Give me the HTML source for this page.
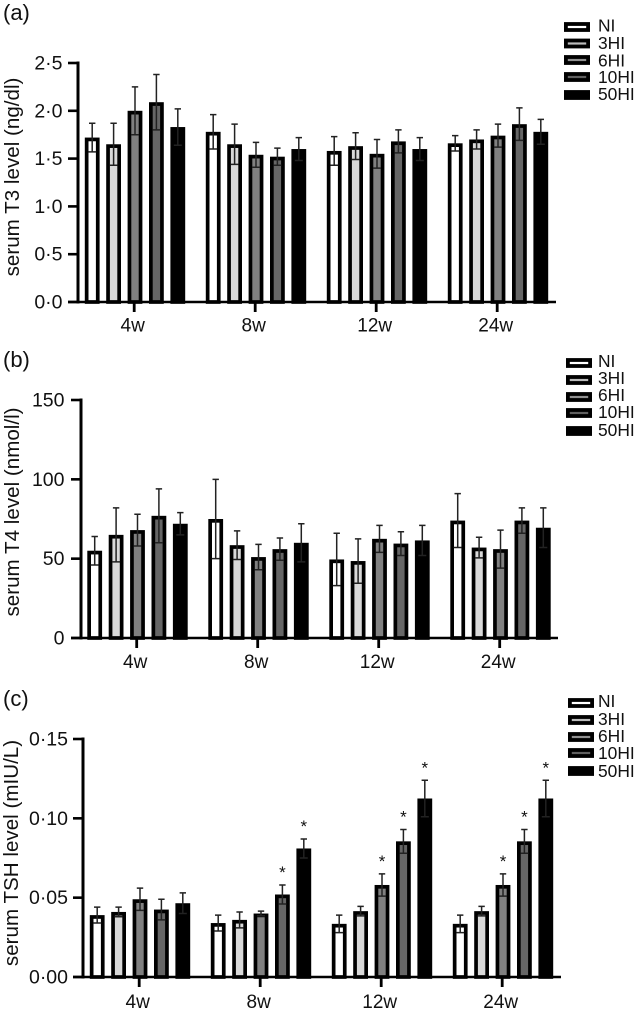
<!DOCTYPE html>
<html lang="en">
<head>
<meta charset="utf-8">
<title>Serum thyroid hormone levels</title>
<style>
html,body{margin:0;padding:0;background:#fff;}
body{width:636px;height:1014px;overflow:hidden;}
svg{display:block;font-family:"Liberation Sans",Arial,sans-serif;fill:#111;}
</style>
</head>
<body>
<svg id="figure" xmlns="http://www.w3.org/2000/svg" width="636" height="1014" viewBox="0 0 636 1014"></svg>
<script>
const weeks = ['4w', '8w', '12w', '24w'];
const groups = ['NI', '3HI', '6HI', '10HI', '50HI'];
const groupFills = ['#ffffff', '#d9d9d9', '#808080', '#666666', '#000000'];
const legendInnerFills = ['#ffffff', '#bbbbbb', '#909090', '#606060', '#000000'];

const t3Ticks = ['0·0', '0·5', '1·0', '1·5', '2·0', '2·5'];
const t3TickValues = [0, 0.5, 1, 1.5, 2, 2.5];
const t3Means = [
  [1.72, 1.65, 2.00, 2.09, 1.83],
  [1.78, 1.65, 1.54, 1.52, 1.60],
  [1.58, 1.63, 1.55, 1.68, 1.60],
  [1.66, 1.70, 1.74, 1.86, 1.78]
];
const t3Errors = [
  [0.15, 0.22, 0.25, 0.29, 0.19],
  [0.18, 0.21, 0.13, 0.09, 0.12],
  [0.15, 0.14, 0.15, 0.12, 0.12],
  [0.08, 0.10, 0.12, 0.17, 0.13]
];

const t4Ticks = ['0', '50', '100', '150'];
const t4TickValues = [0, 50, 100, 150];
const t4Means = [
  [55, 65, 68, 77, 72],
  [75, 58.5, 51, 56, 60],
  [49.5, 48.5, 62.5, 59.5, 61.5],
  [74, 57, 56, 74, 69.5]
];
const t4Errors = [
  [9, 17, 10, 17, 7],
  [25, 9, 8, 7, 12],
  [16.5, 14, 8.5, 7.5, 9.5],
  [17, 6.5, 12, 8, 12.5]
];

const tshTicks = ['0·00', '0·05', '0·10', '0·15'];
const tshTickValues = [0, 0.05, 0.10, 0.15];
const tshMeans = [
  [0.039, 0.041, 0.049, 0.0425, 0.0465],
  [0.034, 0.036, 0.040, 0.052, 0.081],
  [0.0335, 0.0415, 0.058, 0.0855, 0.1125],
  [0.0335, 0.0415, 0.058, 0.0855, 0.1125]
];
const tshErrors = [
  [0.005, 0.003, 0.007, 0.0065, 0.0065],
  [0.005, 0.005, 0.0015, 0.006, 0.006],
  [0.0055, 0.003, 0.007, 0.0075, 0.0115],
  [0.0055, 0.003, 0.007, 0.0075, 0.0115]
];
const tshStars = [
  [0, 0, 0, 0, 0],
  [0, 0, 0, 1, 1],
  [0, 0, 1, 1, 1],
  [0, 0, 1, 1, 1]
];

const NS = 'http://www.w3.org/2000/svg';
const figure = document.getElementById('figure');

function make(tag, parent, attrs) {
  const el = document.createElementNS(NS, tag);
  for (const k in attrs) el.setAttribute(k, attrs[k]);
  parent.appendChild(el);
  return el;
}

function drawPanel(cfg) {
  const panel = make('g', figure, {});
  
  

  const yScale = v => cfg.y0 - (v / cfg.yMax) * (cfg.y0 - cfg.yTop);
  const xScale = (g, s) => cfg.xFirst + g * cfg.groupStep + (s - 2) * cfg.barStep;

  const letter = make('text', panel, {x: 3, y: cfg.letterY, 'font-size': 22});
  
  
  letter.textContent = '(' + cfg.id + ')';

  const title = make('text', panel, {
    transform: 'translate(' + cfg.titleX + ' ' + cfg.titleY + ') rotate(-90)',
    'text-anchor': 'middle', 'font-size': cfg.titleSize
  });
  
  
  title.textContent = cfg.title;

  // bars and error bars
  cfg.means.forEach((row, g) => {
    row.forEach((m, s) => {
      const cx = xScale(g, s);
      const sw = 3.7;
      const w = 14.8;
      const top = yScale(m);
      const bar = make('rect', panel, {
        x: cx - w / 2 + sw / 2,
        y: top + sw / 2,
        width: w - sw,
        height: cfg.y0 - top - sw / 2,
        fill: groupFills[s],
        stroke: '#000',
        'stroke-width': sw
      });
      
      

      const e = cfg.errors[g][s];
      const hi = yScale(m + e);
      const lo = yScale(m - e);
      const err = make('path', panel, {
        d: 'M' + (cx - 3.2) + ' ' + hi + 'H' + (cx + 3.2) + 'M' + cx + ' ' + hi + 'V' + lo +
           'M' + (cx - 4) + ' ' + lo + 'H' + (cx + 4),
        fill: 'none',
        stroke: '#222',
        'stroke-width': 1.5
      });
      
      

      if (cfg.stars && cfg.stars[g][s]) {
        const star = make('text', panel, {
          x: cx, y: hi - 7, 'text-anchor': 'middle', 'font-size': 17
        });
        
        
        star.textContent = '*';
      }
    });
  });

  // axes
  const yAxis = make('line', panel, {
    x1: cfg.axisX, x2: cfg.axisX, y1: cfg.yTop - 1.5, y2: cfg.y0 + 1.5, stroke: '#000', 'stroke-width': 3
  });
  
  

  const xAxis = make('line', panel, {
    x1: cfg.axisX - 10, x2: cfg.xEnd, y1: cfg.y0, y2: cfg.y0, stroke: '#000', 'stroke-width': 2.6
  });
  
  

  cfg.tickValues.forEach((v, i) => {
    const y = yScale(v);
    const tick = make('line', panel, {
      x1: cfg.axisX - 10, x2: cfg.axisX, y1: y, y2: y, stroke: '#000', 'stroke-width': 2.6
    });
    
    

    const label = make('text', panel, {
      x: cfg.tickLabelX, y: y + 6.5, 'text-anchor': 'end', 'font-size': 19.5
    });
    
    
    label.textContent = cfg.ticks[i];
  });

  weeks.forEach((wk, g) => {
    const x = xScale(g, 2) - 0.8;
    const tick = make('line', panel, {
      x1: x, x2: x, y1: cfg.y0, y2: cfg.y0 + 10, stroke: '#000', 'stroke-width': 2.8
    });
    
    

    const label = make('text', panel, {
      x: x + cfg.xLabelShift, y: cfg.y0 + cfg.xLabelGap, 'text-anchor': 'middle', 'font-size': 19
    });
    
    
    label.textContent = wk;
  });

  // legend
  const legend = make('g', panel, {});
  
  
  groups.forEach((name, i) => {
    const cy = cfg.legendY[i];
    const entry = make('g', legend, {});
    
    

    const swatch = make('rect', entry, {
      x: cfg.legendX + 1.9, y: cy - 3, width: 22.2, height: 6,
      fill: legendInnerFills[i], stroke: '#000', 'stroke-width': 3.8
    });
    
    

    const text = make('text', entry, {x: 598, y: cfg.legendTextY[i], 'font-size': 17.4});
    
    
    text.textContent = name;
  });
}

drawPanel({
  id: 'a', title: 'serum T3 level (ng/dl)', titleX: 19, titleY: 177, titleSize: 20.6, letterY: 20,
  means: t3Means, errors: t3Errors, ticks: t3Ticks, tickValues: t3TickValues, yMax: 2.5,
  y0: 302, yTop: 63, axisX: 78, xEnd: 556, xFirst: 135, groupStep: 121, barStep: 21.4,
  tickLabelX: 62.5, xLabelGap: 29.5, xLabelShift: -1.5,
  legendX: 564, legendY: [27, 43.5, 60, 77, 95], legendTextY: [31.5, 49, 66.5, 83, 100]
});
drawPanel({
  id: 'b', title: 'serum T4 level (nmol/l)', titleX: 19, titleY: 512, titleSize: 20.6, letterY: 367,
  means: t4Means, errors: t4Errors, ticks: t4Ticks, tickValues: t4TickValues, yMax: 150,
  y0: 638, yTop: 400, axisX: 81, xEnd: 558, xFirst: 137.5, groupStep: 121, barStep: 21.4,
  tickLabelX: 64.5, xLabelGap: 30, xLabelShift: -1.5,
  legendX: 566, legendY: [363, 380, 397, 413, 431], legendTextY: [367, 384, 401, 418, 436]
});
drawPanel({
  id: 'c', title: 'serum TSH level (mIU/L)', titleX: 18, titleY: 853, titleSize: 20.6, letterY: 706,
  means: tshMeans, errors: tshErrors, stars: tshStars, ticks: tshTicks, tickValues: tshTickValues, yMax: 0.15,
  y0: 977, yTop: 739, axisX: 83, xEnd: 561, xFirst: 140, groupStep: 121, barStep: 21.4,
  tickLabelX: 68, xLabelGap: 31, xLabelShift: -1.5,
  legendX: 568, legendY: [703, 720, 737, 753, 771], legendTextY: [707, 725, 742, 759, 777]
});
</script>
</body>
</html>
